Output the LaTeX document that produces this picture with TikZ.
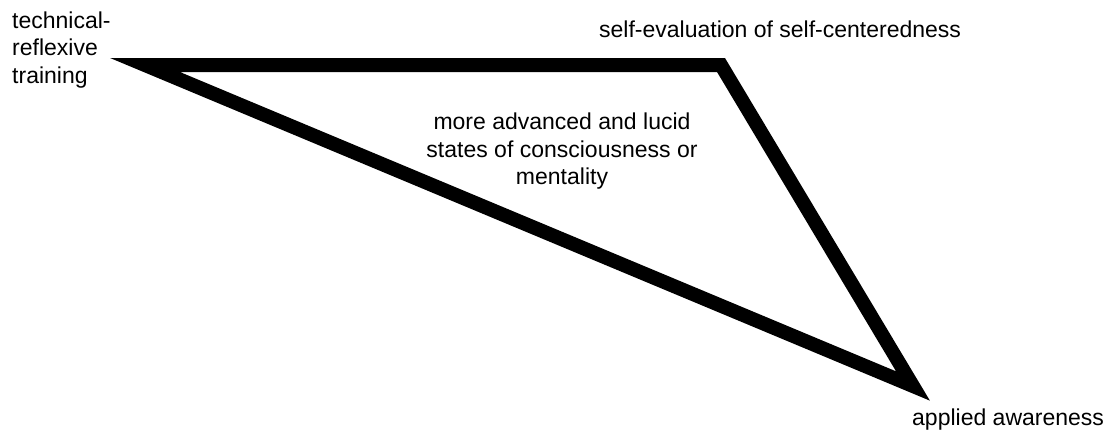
\documentclass[tikz,border=0pt]{standalone}
\usepackage{fontspec}
\setmainfont{Liberation Sans}
\usepackage{tikz}

\begin{document}
\begin{tikzpicture}[x=1pt, y=-1pt,
        labelnode/.style={inner sep=0pt, font=\fontsize{23}{27.5}\selectfont},
        edgeline/.style={line width=14pt, line join=miter, draw=black},
    ]
    \useasboundingbox (0,0) rectangle (1109,429);
    %Corners
    \coordinate (trainingcorner) at (145,65);
    \coordinate (selfcorner) at (721,65);
    \coordinate (appliedcorner) at (913,386);
    %Nodes
    \node[labelnode, anchor=west, align=left] (trainingnode) at (12,50) {technical-\\reflexive\\training};
    \node[labelnode, anchor=west] (selfnode) at (599,29) {self-evaluation of self-centeredness};
    \node[labelnode, anchor=west] (appliednode) at (912,420) {applied awareness};
    \node[labelnode, align=center] (statesnode) at (562,151.5) {more advanced and lucid\\states of consciousness or\\mentality};
    %Lines
    \draw[edgeline] (trainingcorner) -- (selfcorner) -- (appliedcorner) -- cycle;
\end{tikzpicture}
\end{document}
